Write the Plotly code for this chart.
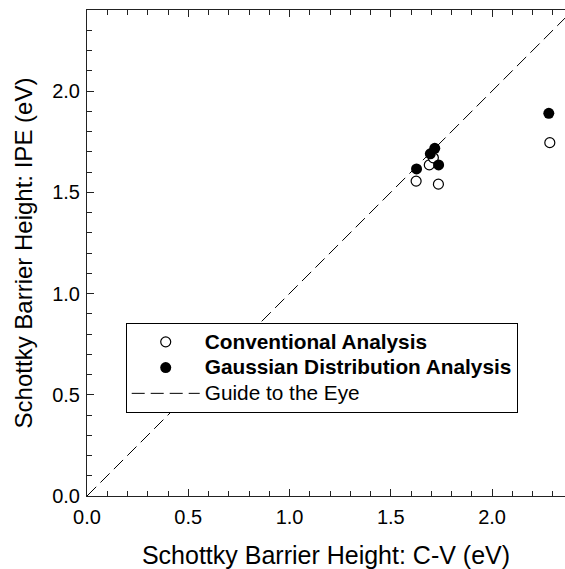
import plotly.graph_objects as go

# Schottky barrier heights: C-V (x) versus internal photoemission (y), in eV
conv_cv = [1.625, 1.690, 1.710, 1.735, 2.285]
conv_ipe = [1.555, 1.635, 1.670, 1.540, 1.745]

gauss_cv = [1.627, 1.695, 1.717, 1.736, 2.280]
gauss_ipe = [1.615, 1.690, 1.717, 1.635, 1.890]

guide_x = [0.0, 2.36]
guide_y = [0.0, 2.36]

FONT = "Liberation Sans, Arial, sans-serif"


def entry(text, bold=False):
    label = f"<b>{text}</b>" if bold else text
    return f"<span style='font-size:20.8px'>{label}</span>"


fig = go.Figure()

fig.add_trace(go.Scatter(
    x=conv_cv, y=conv_ipe, mode="markers",
    name=entry("Conventional Analysis", bold=True),
    marker=dict(symbol="circle", size=10, color="white",
                line=dict(color="black", width=1.2)),
))
fig.add_trace(go.Scatter(
    x=gauss_cv, y=gauss_ipe, mode="markers",
    name=entry("Gaussian Distribution Analysis", bold=True),
    marker=dict(symbol="circle", size=11, color="black",
                line=dict(color="black", width=0)),
))
fig.add_trace(go.Scatter(
    x=guide_x, y=guide_y, mode="lines",
    name=entry("Guide to the Eye"),
    line=dict(color="black", width=1, dash="13px,6px"),
))

axis_common = dict(
    showgrid=False, zeroline=False,
    showline=True, linecolor="#222222", linewidth=1,
    ticks="inside", ticklen=7, tickcolor="#222222", tickwidth=1,
    dtick=0.5, tickformat=".1f",
    minor=dict(dtick=0.1, ticks="inside", ticklen=5, tickcolor="#222222"),
    tickfont=dict(family=FONT, size=20, color="black"),
)

fig.update_xaxes(
    range=[0, 2.36], tick0=0, ticklabelstandoff=3, mirror="ticks",
    title=dict(text="Schottky Barrier Height: C-V (eV)",
               font=dict(family=FONT, size=25, color="black"), standoff=20),
    **axis_common,
)
fig.update_yaxes(
    range=[0, 2.4], tick0=0, ticklabelstandoff=2, mirror=False,
    title=dict(text="Schottky Barrier Height: IPE (eV)",
               font=dict(family=FONT, size=24, color="black"), standoff=12),
    **axis_common,
)

fig.update_layout(
    width=565, height=569,
    margin=dict(l=87, r=0, t=10, b=73),
    paper_bgcolor="white", plot_bgcolor="white",
    showlegend=True,
    legend=dict(
        x=0.081, y=0.356, xanchor="left", yanchor="top",
        bgcolor="white", bordercolor="black", borderwidth=1,
        font=dict(family=FONT, size=17.5, color="black"),
        itemwidth=68, tracegroupgap=0,
    ),
    font=dict(family=FONT, color="black"),
)

fig.write_html("out.html")
